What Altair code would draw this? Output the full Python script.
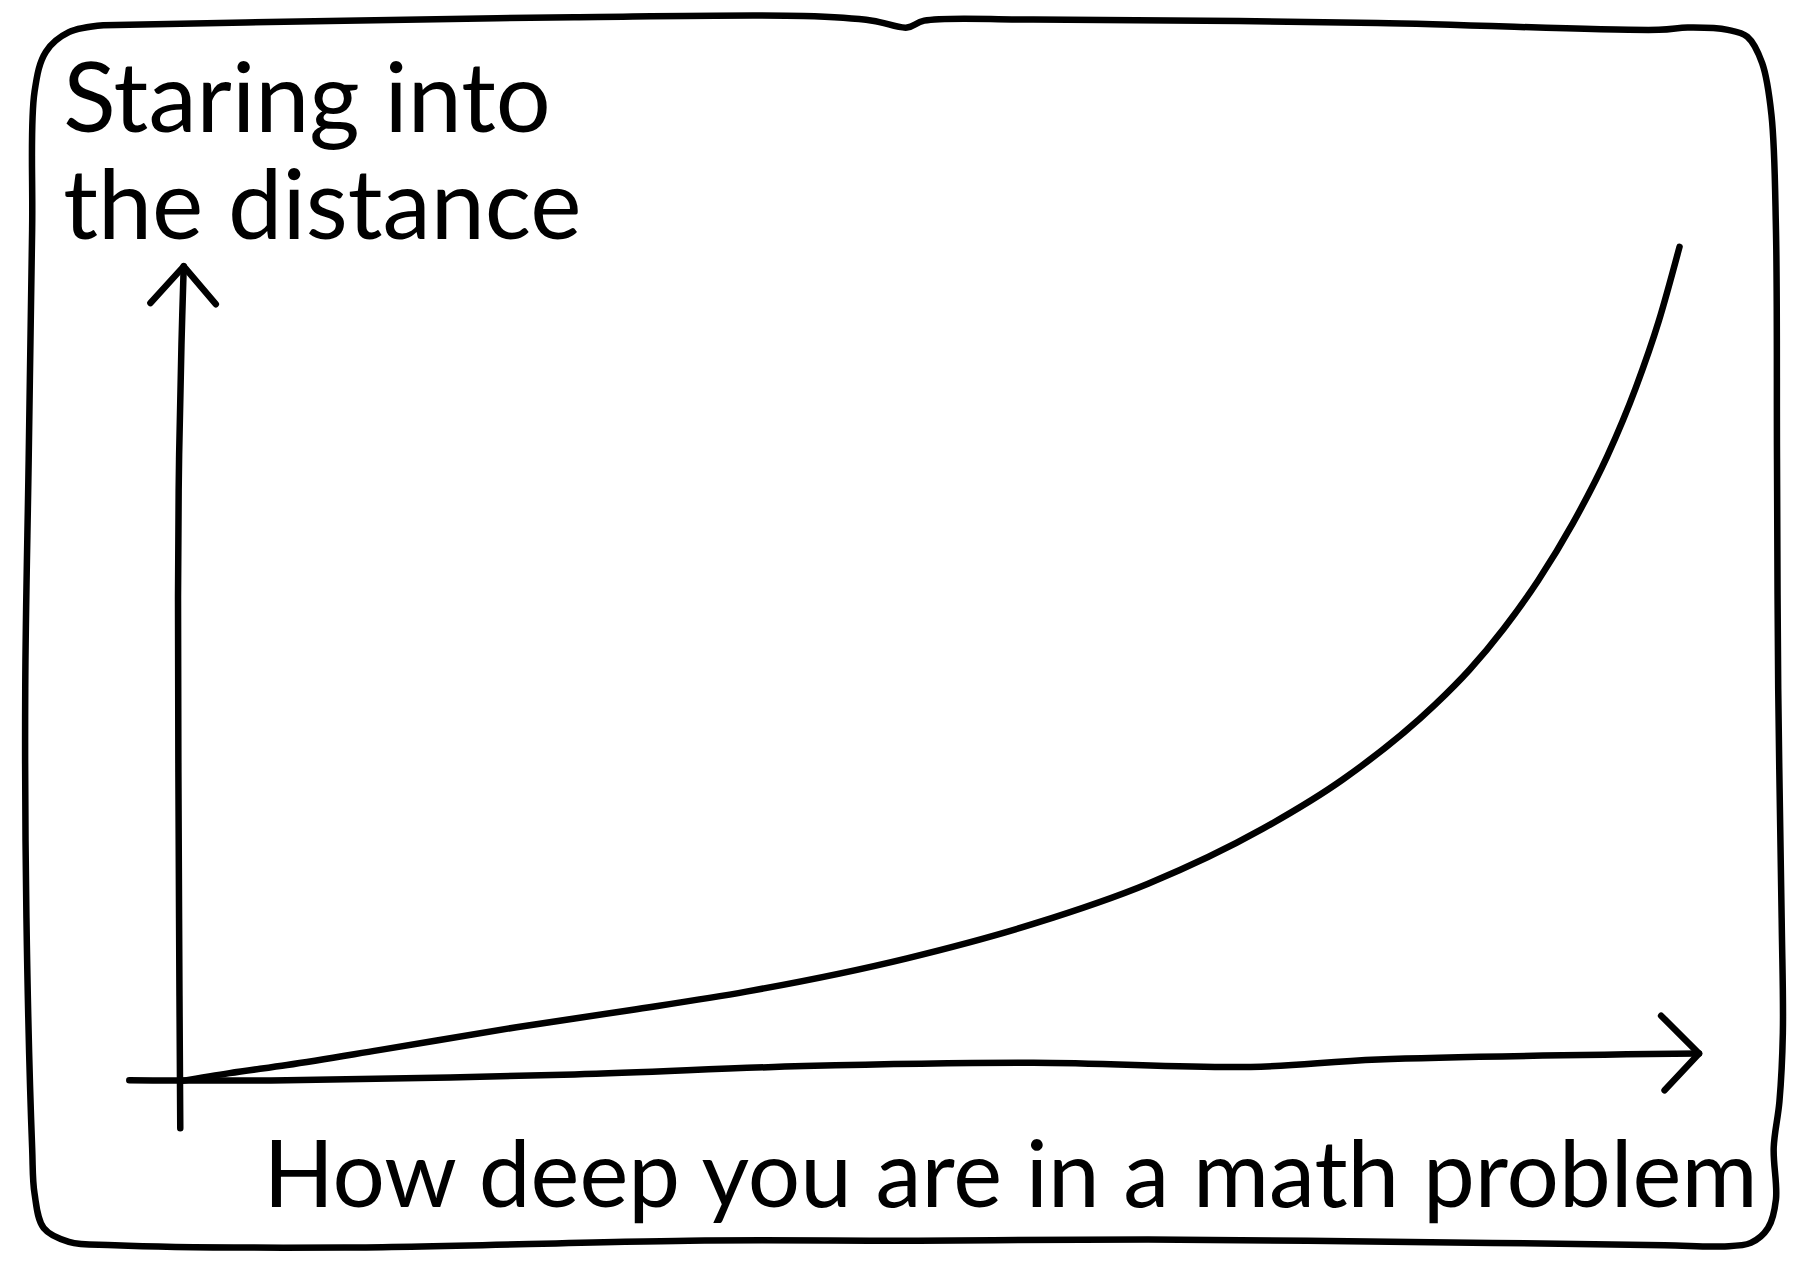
import altair as alt
import pandas as pd

# ---- data (units: x = depth in problem, y = staring into distance) ----
curve_x = [0, 0.329, 0.712, 1.325, 2.243, 3.009, 3.775, 4.847, 5.689, 6.455, 7.221, 7.756, 8.369,
           8.599, 8.828, 9.058, 9.288, 9.518, 9.709, 9.862, 10.0]
curve_y = [0, 0.096, 0.193, 0.371, 0.646, 0.853, 1.073, 1.472, 1.884, 2.366, 3.026, 3.618, 4.512,
           4.931, 5.426, 6.004, 6.685, 7.490, 8.315, 9.113, 10.0]

xaxis_x = [-0.34, 0.71, 2.63, 4.16, 5.69, 7.14, 7.99, 10.13]
xaxis_y = [0.01, 0.01, 0.08, 0.18, 0.22, 0.17, 0.26, 0.33]
xarrow_x = [9.877, 10.13, 9.90]
xarrow_y = [0.784, 0.33, -0.110]

yaxis_x = [0.0, -0.008, -0.015, -0.008, 0.008, 0.023]
yaxis_y = [-0.564, 1.953, 5.805, 7.455, 8.831, 9.766]
yarrow_x = [-0.199, 0.023, 0.237]
yarrow_y = [9.326, 9.766, 9.312]

border_x = [-0.513, 1.095, 2.626, 4.158, 4.617, 4.847, 4.962, 5.689, 7.986, 9.862, 10.054, 10.322,
            10.452, 10.551, 10.613, 10.643, 10.650, 10.658, 10.681, 10.689, 10.666, 10.628, 10.643,
            10.590, 10.475, 10.283, 9.900, 8.752, 6.455, 4.923, 3.392, 1.095, -0.436, -0.743, -0.911,
            -0.972, -0.988, -1.026, -1.034, -1.011, -0.988, -0.972, -0.896, -0.743, -0.513]
border_y = [12.655, 12.710, 12.751, 12.765, 12.710, 12.627, 12.710, 12.723, 12.682, 12.600, 12.627, 12.600,
            12.517, 12.201, 11.582, 10.206, 7.455, 4.704, 1.953, 0.578, -0.248, -0.798, -1.417,
            -1.761, -1.939, -1.981, -1.967, -1.939, -1.898, -1.912, -1.912, -1.994, -1.967, -1.926, -1.761,
            -1.348, -0.798, 1.953, 4.704, 7.455, 10.206, 11.857, 12.338, 12.572, 12.655]

y_title_lines = ["Staring into", "the distance"]
y_title_x = [-0.781, -0.781]
y_title_y = [11.375, 10.096]

x_title = ["How deep you are in a math problem"]
x_title_x = [10.52]
x_title_y = [-1.513]


def path(name, xs, ys):
    return pd.DataFrame({"stroke": name, "order": list(range(len(xs))), "x": xs, "y": ys})


smooth = pd.concat([
    path("xaxis", xaxis_x, xaxis_y),
    path("yaxis", yaxis_x, yaxis_y),
    path("border", border_x, border_y),
])
sharp = pd.concat([
    path("xarrow", xarrow_x, xarrow_y),
    path("yarrow", yarrow_x, yarrow_y),
])
curve = path("curve", curve_x, curve_y)

xs = alt.Scale(domain=[-1.149, 10.750], nice=False, zero=False)
ys = alt.Scale(domain=[-2.228, 12.862], nice=False, zero=False)

line_style = dict(color="black", strokeWidth=6.5, strokeCap="round", strokeJoin="round")

X = alt.X("x:Q", scale=xs, axis=None)
Y = alt.Y("y:Q", scale=ys, axis=None)

curve_layer = alt.Chart(curve).mark_line(interpolate="monotone", **line_style).encode(
    x=X, y=Y, order="order:Q"
)
smooth_layer = alt.Chart(smooth).mark_line(interpolate="catmull-rom", **line_style).encode(
    x=X, y=Y, detail="stroke:N", order="order:Q"
)
sharp_layer = alt.Chart(sharp).mark_line(interpolate="linear", **line_style).encode(
    x=X, y=Y, detail="stroke:N", order="order:Q"
)

ytext = alt.Chart(pd.DataFrame({"t": y_title_lines, "x": y_title_x, "y": y_title_y})).mark_text(
    align="left", baseline="alphabetic", font="Lato", fontSize=97, color="black"
).encode(x=X, y=Y, text="t:N")

xtext = alt.Chart(pd.DataFrame({"t": x_title, "x": x_title_x, "y": x_title_y})).mark_text(
    align="right", baseline="alphabetic", font="Lato", fontSize=92.5, color="black"
).encode(x=X, y=Y, text="t:N")

chart = alt.layer(smooth_layer, sharp_layer, curve_layer, ytext, xtext).properties(
    width=1784, height=1259, padding=0, autosize=alt.AutoSizeParams(type="none"), background="white"
).configure_view(stroke=None)

chart.save("out.html", embed_options={"renderer": "svg", "actions": False})
